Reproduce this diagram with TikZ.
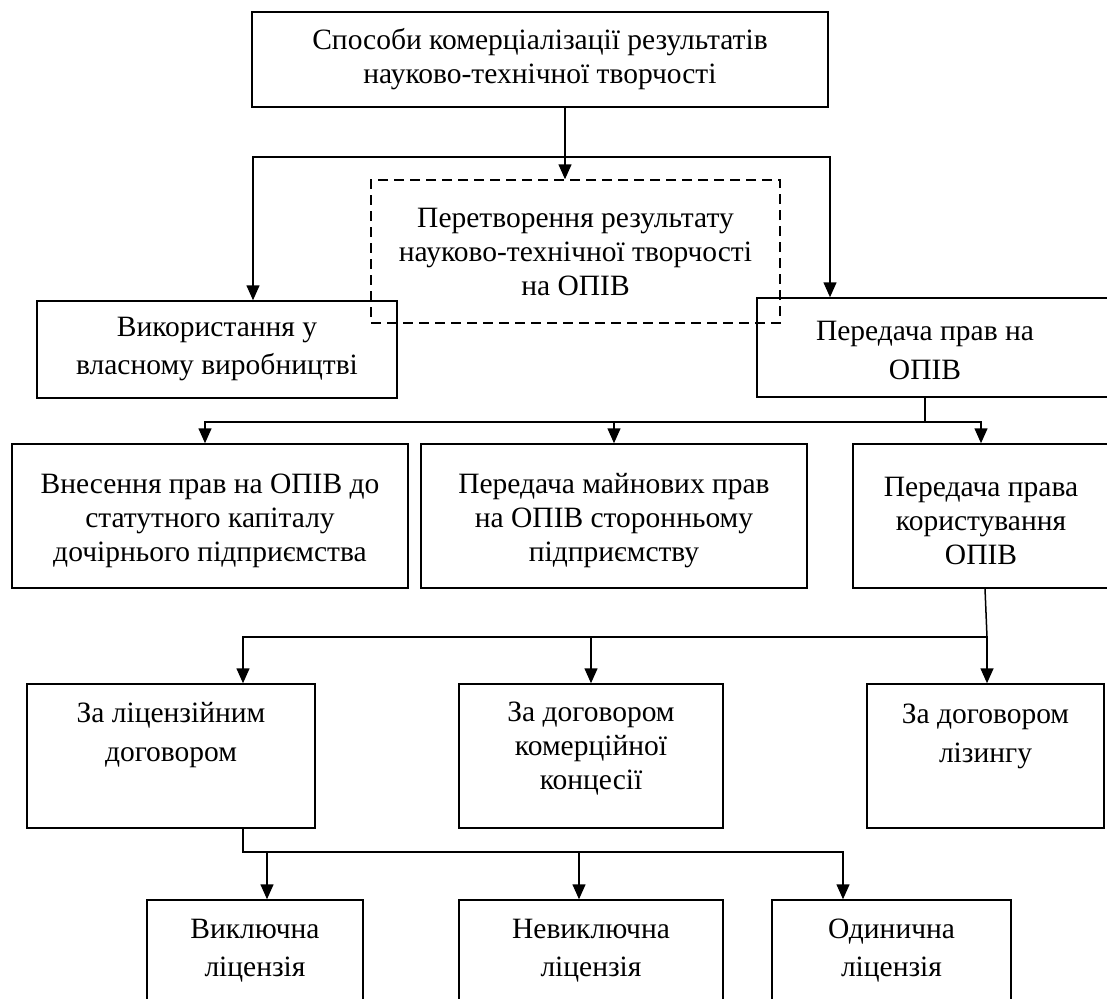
\documentclass[tikz,border=0pt]{standalone}
\usepackage{fontspec}
\setmainfont{Liberation Serif}
\usetikzlibrary{arrows.meta}
\begin{document}
\begin{tikzpicture}[x=1pt,y=-1pt,
  box/.style={draw, line width=1.5pt, inner sep=0pt, align=center, font=\fontsize{29.5}{34}\selectfont},
  boxw/.style={box, font=\fontsize{29.5}{38}\selectfont},
  dbox/.style={box, dash pattern=on 10pt off 6pt},
  txt/.style={inner sep=0pt, align=center, font=\fontsize{29.5}{39}\selectfont},
  txtn/.style={inner sep=0pt, align=center, font=\fontsize{29.5}{34}\selectfont},
  ln/.style={line width=1.5pt},
  arr/.style={line width=1.5pt, -{Triangle[length=15pt,width=13pt]}},
  arrb/.style={line width=1.5pt, {Triangle[length=15pt,width=13pt]}-{Triangle[length=15pt,width=13pt]}},
]
\useasboundingbox (0,0) rectangle (1107,998);
\clip (0,0) rectangle (1107,998);

% nodes
\node[box, minimum width=576pt, minimum height=95pt] (t) at (540,59.5)
  {Способи комерціалізації результатів\\науково-технічної творчості};
\node[dbox, minimum width=409pt, minimum height=143pt] (d) at (575.5,251.5)
  {Перетворення результату\\науково-технічної творчості\\на ОПІВ};
\node[boxw, minimum width=360pt, minimum height=97pt] (u) at (217,349.5)
  {Використання у\\власному виробництві};
\node[box, minimum width=358pt, minimum height=99pt] (p) at (936,347.5) {};
\node[txt] (pt) at (925,350) {Передача прав на\\ОПІВ};

\node[box, minimum width=396pt, minimum height=144pt] (r1) at (210,516) {};
\node[txtn] (r1t) at (210,521) {Внесення прав на ОПІВ до\\статутного капіталу\\дочірнього підприємства};
\node[box, minimum width=386pt, minimum height=144pt] (r2) at (614,516) {};
\node[txtn] (r2t) at (614,521) {Передача майнових прав\\на ОПІВ сторонньому\\підприємству};
\node[box, minimum width=262pt, minimum height=144pt] (r3) at (984,516) {};
\node[txtn] (r3t) at (981,521) {Передача права\\користування\\ОПІВ};

\node[box, minimum width=288pt, minimum height=144pt] (f1) at (171,756) {};
\node[txt] (f1t) at (171,735) {За ліцензійним\\договором};
\node[box, minimum width=264pt, minimum height=144pt] (f2) at (591,756) {};
\node[txtn] (f2t) at (591,749) {За договором\\комерційної\\концесії};
\node[box, minimum width=237pt, minimum height=144pt] (f3) at (985.5,756) {};
\node[txt] (f3t) at (985.5,736) {За договором\\лізингу};

\node[boxw, minimum width=216pt, minimum height=102pt] (g1) at (255,951)
  {Виключна\\ліцензія};
\node[boxw, minimum width=264pt, minimum height=102pt] (g2) at (591,951)
  {Невиключна\\ліцензія};
\node[boxw, minimum width=239pt, minimum height=102pt] (g3) at (891.5,951)
  {Одинична\\ліцензія};

% junction coordinates
\coordinate (j1) at (253,157);
\coordinate (j2) at (830,157);
\coordinate (j3) at (925,422);
\coordinate (j4) at (205,422);
\coordinate (j5) at (981,422);
\coordinate (k1) at (243,637);
\coordinate (k3) at (987,637);
\coordinate (m1) at (243,852);
\coordinate (m2) at (267,852);
\coordinate (m4) at (579,852);
\coordinate (m3) at (843,852);

% connectors
\draw[arr] ([xshift=25pt]t.south) -- ([xshift=-10.5pt]d.north);
\draw[arrb] (j1 |- u.north) -- (j1) -- (j2) -- (j2 |- p.north);

\draw[ln] (j3 |- p.south) -- (j3);
\draw[arrb] (j4 |- r1.north) -- (j4) -- (j5) -- (j5 |- r3.north);
\draw[arr] (r2.north |- j4) -- (r2.north);

\draw[ln] ([xshift=1pt]r3.south) -- (k3);
\draw[arrb] (k1 |- f1.north) -- (k1) -- (k3) -- (k3 |- f3.north);
\draw[arr] (f2.north |- k1) -- (f2.north);

\draw[arr] (m1 |- f1.south) -- (m1) -- (m3) -- (m3 |- g3.north);
\draw[arr] (m2) -- (m2 |- g1.north);
\draw[arr] (m4) -- (m4 |- g2.north);
\end{tikzpicture}
\end{document}
